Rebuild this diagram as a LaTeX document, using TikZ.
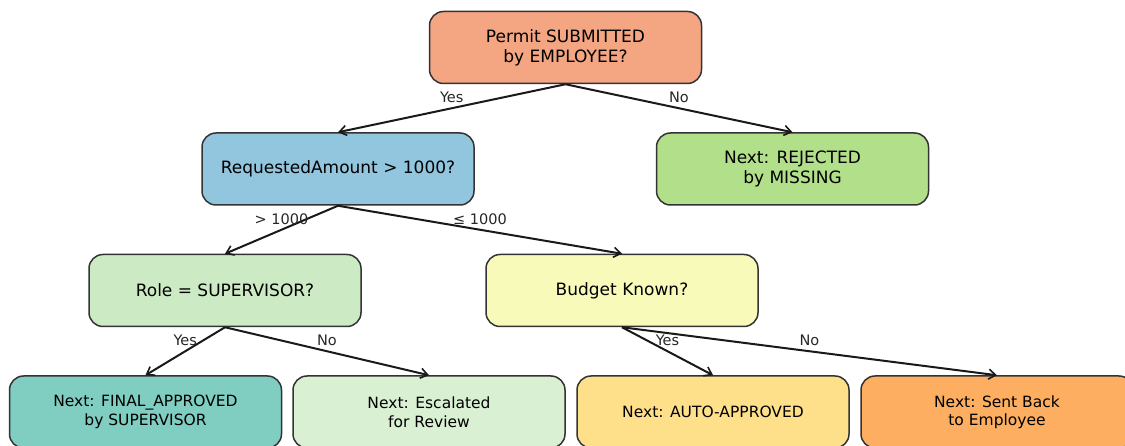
\documentclass[tikz,border=0pt]{standalone}
\usepackage{fontspec}
\setmainfont{DejaVu Sans}
\usetikzlibrary{arrows.meta}
\definecolor{cTop}{HTML}{F4A582}
\definecolor{cReq}{HTML}{92C5DE}
\definecolor{cRej}{HTML}{B2DF8A}
\definecolor{cRole}{HTML}{CCEBC5}
\definecolor{cBud}{HTML}{F7FAB9}
\definecolor{cFin}{HTML}{80CDC1}
\definecolor{cEsc}{HTML}{D9F0D3}
\definecolor{cAuto}{HTML}{FEE08B}
\definecolor{cSent}{HTML}{FDAE61}
\definecolor{cEdge}{HTML}{333333}
\tikzset{
  box/.style={draw=cEdge, line width=1.5pt, rounded corners=14pt,
    minimum width=272pt, minimum height=72pt, align=center, inner sep=0pt},
  big/.style={font=\fontsize{17}{20}\selectfont},
  small/.style={font=\fontsize{15.5}{18.5}\selectfont},
  conn/.style={line width=2pt, draw=black!90, -{Straight Barb[length=7pt,width=10pt,line width=1.6pt]}},
  lbl/.style={midway, yshift=11pt, font=\fontsize{14.5}{17}\selectfont, text=black!85, inner sep=0pt}
}
\begin{document}
\begin{tikzpicture}[x=1pt,y=-1pt]
\useasboundingbox (0,0) rectangle (1125,446);
\node[box,big,fill=cTop] (top) at (565.5,47.5) {Permit SUBMITTED\\by EMPLOYEE?};
\node[box,big,fill=cReq] (req) at (338,169) {RequestedAmount > 1000?};
\node[box,big,fill=cRej] (rej) at (792.5,169) {Next: REJECTED\\by MISSING};
\node[box,big,fill=cRole] (role) at (225,290.5) {Role = SUPERVISOR?};
\node[box,big,fill=cBud] (bud) at (622,290.5) {Budget Known?};
\node[box,small,fill=cFin] (fin) at (145.5,412) {Next: FINAL\_APPROVED\\by SUPERVISOR};
\node[box,small,fill=cEsc] (esc) at (429,412) {Next: Escalated\\for Review};
\node[box,small,fill=cAuto] (auto) at (713,412) {Next: AUTO-APPROVED};
\node[box,small,fill=cSent] (sent) at (997,412) {Next: Sent Back\\to Employee};
\draw[conn] (top.south) -- (req.north) node[lbl] {Yes};
\draw[conn] (top.south) -- (rej.north) node[lbl] {No};
\draw[conn] (req.south) -- (role.north) node[lbl] {> 1000};
\draw[conn] (req.south) -- (bud.north) node[lbl] {≤ 1000};
\draw[conn] (role.south) -- (fin.north) node[lbl] {Yes};
\draw[conn] (role.south) -- (esc.north) node[lbl] {No};
\draw[conn] (bud.south) -- (auto.north) node[lbl] {Yes};
\draw[conn] (bud.south) -- (sent.north) node[lbl] {No};
\end{tikzpicture}
\end{document}
